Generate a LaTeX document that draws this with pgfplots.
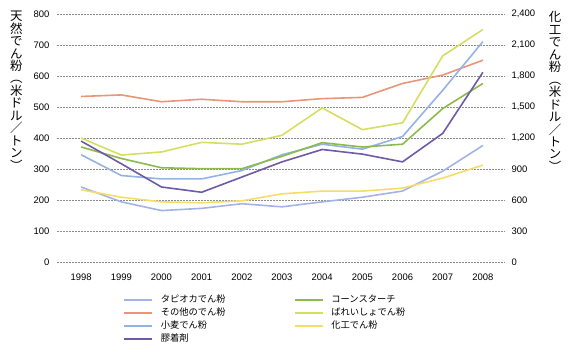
\documentclass[border=0pt]{standalone}
\usepackage{fontspec}
\setmainfont{Liberation Sans}
\newfontfamily\cjk{Noto Sans CJK JP}
\usepackage{pgfplots}
\pgfplotsset{compat=1.18}
\definecolor{ctapioca}{HTML}{A3B3E6}
\definecolor{cother}{HTML}{EB9478}
\definecolor{cwheat}{HTML}{94B3E3}
\definecolor{cadh}{HTML}{6F5BA5}
\definecolor{ccorn}{HTML}{8CBA4C}
\definecolor{cpotato}{HTML}{D4DF5E}
\definecolor{cmod}{HTML}{F7DC6A}
\definecolor{cgrid}{HTML}{8A8A8A}
\begin{document}
\begin{tikzpicture}[x=1bp,y=1bp]
\begin{axis}[
  at={(0,0)}, anchor=south west,
  scale only axis, width=448bp, height=248bp,
  xmin=1997.4, xmax=2008.55, ymin=0, ymax=800,
  xtick={1998,1999,...,2008}, ytick={0,100,...,800},
  axis line style={draw=none}, major tick length=0pt,
  ymajorgrids, grid style={cgrid, line width=0.6bp, dash pattern=on 1.5bp off 1.5bp},
  /pgf/number format/assume math mode=true,
  x tick label style={/pgf/number format/1000 sep={}, font=\fontsize{9.5}{11}\selectfont, yshift=-8bp},
  y tick label style={font=\fontsize{9.5}{11}\selectfont, xshift=-4bp},
  no marks,
  every axis plot/.append style={line width=1.6bp},
  legend columns=2, legend cell align=left,
  legend image code/.code={\draw[#1] (0bp,0bp) -- (28bp,0bp);},
  legend style={draw=none, fill=none, inner sep=0pt, at={(0.1484,-0.125)}, anchor=north west,
    font=\cjk\fontsize{9.3}{11}\selectfont, row sep=0pt,
    nodes={inner sep=1.5bp, text height=8bp, text depth=2bp},
    /tikz/every odd column/.style={column sep=6bp}},
]
% tapioca
\addplot[ctapioca, forget plot] coordinates {(1998,242) (1999,194) (2000,166) (2001,173) (2002,188) (2003,178) (2004,194) (2005,209) (2006,229) (2007,293) (2008,376)};
% other starch
\addplot[cother, forget plot] coordinates {(1998,534) (1999,539) (2000,517) (2001,525) (2002,517) (2003,517) (2004,527) (2005,531) (2006,576) (2007,603) (2008,651)};
% wheat
\addplot[cwheat, forget plot] coordinates {(1998,346) (1999,279) (2000,268) (2001,268) (2002,295) (2003,346) (2004,380) (2005,364) (2006,405) (2007,554) (2008,711)};
% corn
\addplot[ccorn, forget plot] coordinates {(1998,371) (1999,334) (2000,304) (2001,301) (2002,301) (2003,341) (2004,385) (2005,371) (2006,380) (2007,495) (2008,576)};
% potato
\addplot[cpotato, forget plot] coordinates {(1998,400) (1999,345) (2000,355) (2001,386) (2002,380) (2003,409) (2004,497) (2005,427) (2006,449) (2007,665) (2008,750)};
% adhesive
\addplot[cadh, forget plot] coordinates {(1998,390) (1999,317) (2000,242) (2001,225) (2002,274) (2003,323) (2004,363) (2005,348) (2006,323) (2007,415) (2008,612)};
\addlegendimage{ctapioca, line width=1.6bp}
\addlegendentry{\makebox[132bp][l]{タピオカでん粉}}
\addlegendimage{ccorn, line width=1.6bp}
\addlegendentry{コーンスターチ}
\addlegendimage{cother, line width=1.6bp}
\addlegendentry{\makebox[132bp][l]{その他のでん粉}}
\addlegendimage{cpotato, line width=1.6bp}
\addlegendentry{ばれいしょでん粉}
\addlegendimage{cwheat, line width=1.6bp}
\addlegendentry{\makebox[132bp][l]{小麦でん粉}}
\addlegendimage{cmod, line width=1.6bp}
\addlegendentry{化工でん粉}
\addlegendimage{cadh, line width=1.6bp}
\addlegendentry{\makebox[132bp][l]{膠着剤}}
\end{axis}
\begin{axis}[
  at={(0,0)}, anchor=south west,
  scale only axis, width=448bp, height=248bp,
  xmin=1997.4, xmax=2008.55, ymin=0, ymax=2400,
  axis y line*=right, axis x line=none,
  ytick={0,300,...,2400},
  axis line style={draw=none}, major tick length=0pt,
  /pgf/number format/assume math mode=true,
  y tick label style={font=\fontsize{9.5}{11}\selectfont, xshift=3bp, /pgf/number format/1000 sep={,}},
  no marks,
]
\addplot[cmod, line width=1.6bp] coordinates {(1998,699) (1999,627) (2000,582) (2001,573) (2002,592) (2003,660) (2004,686) (2005,686) (2006,715) (2007,812) (2008,938)};
\end{axis}
\node[anchor=north, inner sep=0pt, align=center, font=\cjk\fontsize{12.5}{12.5}\selectfont] at (-40.7,251) {天\\然\\で\\ん\\粉\\︵\\米\\ド\\ル\\／\\ト\\ン\\︶};
\node[anchor=north, inner sep=0pt, align=center, font=\cjk\fontsize{12.5}{12.5}\selectfont] at (498,250.5) {化\\工\\で\\ん\\粉\\︵\\米\\ド\\ル\\／\\ト\\ン\\︶};
\pgfresetboundingbox
\path (-57,-91) rectangle (514,262);
\end{tikzpicture}
\end{document}
